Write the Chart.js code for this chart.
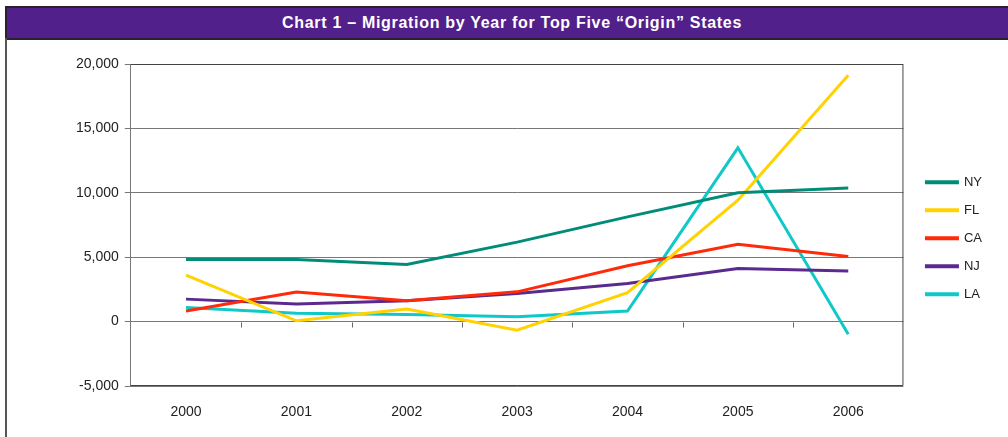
<!DOCTYPE html>
<html lang="en">
<head>
    <meta charset="UTF-8">
    <title>Migration by Year for Top Five Origin States</title>
    <script src="https://cdn.jsdelivr.net/npm/chart.js"></script>
    <style>
        body { margin: 0; background: #fff; font-family: "Liberation Sans", Arial, sans-serif; }
        #frame { position: relative; width: 1008px; height: 437px; overflow: hidden; }
        #titleBar {
            position: absolute; left: 5px; top: 6px; width: 1010px; height: 30px;
            background: #52208a; border-top: 2px solid #2a2030; border-bottom: 2px solid #2a2030;
            border-left: 2px solid #2a2030;
            color: #fff; font-weight: bold; font-size: 16px; letter-spacing: 0.7px; line-height: 30px;
            text-align: center; box-sizing: content-box;
        }
        #leftEdge { position: absolute; left: 5px; top: 38px; width: 2px; height: 400px; background: #555; }
        #chartBox { position: absolute; left: 7px; top: 38px; width: 1001px; height: 399px; }
    </style>
</head>
<body>
    <div id="frame">
        <div id="titleBar">Chart 1 – Migration by Year for Top Five “Origin” States</div>
        <div id="leftEdge"></div>
        <div id="chartBox"><canvas id="migrationChart" width="1001" height="399"></canvas></div>
    </div>

    <script>
        // Data
        const years = ['2000', '2001', '2002', '2003', '2004', '2005', '2006'];
        const nyValues = [4830, 4830, 4440, 6170, 8130, 10000, 10380];
        const flValues = [3610, 60, 970, -660, 2240, 9430, 19130];
        const caValues = [815, 2290, 1620, 2310, 4330, 6010, 5060];
        const njValues = [1745, 1360, 1610, 2190, 2960, 4130, 3920];
        const laValues = [1100, 640, 560, 370, 815, 13490, -990];
        const yTicks = [-5000, 0, 5000, 10000, 15000, 20000];

        function series(label, data, color) {
            return {
                label: label,
                data: data,
                borderColor: color,
                backgroundColor: color,
                borderWidth: 3,
                pointRadius: 0,
                tension: 0
            };
        }

        // frame around the plot + small ticks on the zero line
        const plotFrame = {
            id: 'plotFrame',
            afterDatasetsDraw(chart) {
                const ctx = chart.ctx;
                const a = chart.chartArea;
                const x = chart.scales.x;
                const y = chart.scales.y;
                ctx.save();
                ctx.strokeStyle = '#444';
                ctx.lineWidth = 1;
                ctx.beginPath();
                ctx.moveTo(a.left, a.top + 0.5);
                ctx.lineTo(a.right - 0.5, a.top + 0.5);
                ctx.lineTo(a.right - 0.5, a.bottom - 0.5);
                ctx.lineTo(a.left, a.bottom - 0.5);
                ctx.stroke();
                const zero = Math.round(y.getPixelForValue(0)) + 0.5;
                ctx.strokeStyle = '#666';
                ctx.beginPath();
                for (let i = 0; i < years.length - 1; i++) {
                    const px = Math.round((x.getPixelForValue(i) + x.getPixelForValue(i + 1)) / 2) + 0.5;
                    ctx.moveTo(px, zero);
                    ctx.lineTo(px, zero + 5);
                }
                ctx.stroke();
                ctx.restore();
            }
        };

        const ctx = document.getElementById('migrationChart').getContext('2d');
        new Chart(ctx, {
            type: 'line',
            data: {
                labels: years,
                datasets: [
                    series('NY', nyValues, '#008c78'),
                    series('FL', flValues, '#ffd200'),
                    series('CA', caValues, '#ff2a0a'),
                    series('NJ', njValues, '#5a2a8e'),
                    series('LA', laValues, '#10c8c8')
                ]
            },
            options: {
                responsive: false,
                animation: false,
                layout: { padding: { left: 63, top: 26, right: 16, bottom: 0 } },
                plugins: {
                    title: { display: false },
                    tooltip: { enabled: false },
                    legend: {
                        position: 'right',
                        align: 'center',
                        fullSize: false,
                        // empty title just nudges the entries down a bit
                        title: { display: true, text: ' ', padding: 6, font: { size: 12 } },
                        labels: {
                            boxWidth: 31,
                            boxHeight: 1,
                            padding: 15,
                            color: '#222',
                            font: { family: '"Liberation Sans", Arial, sans-serif', size: 13 }
                        }
                    }
                },
                scales: {
                    x: {
                        offset: true,
                        grid: { display: false },
                        border: { display: false },
                        afterFit(scale) { scale.height = 51; },
                        ticks: {
                            padding: 10,
                            color: '#222',
                            font: { family: '"Liberation Sans", Arial, sans-serif', size: 14 }
                        }
                    },
                    y: {
                        min: -5000,
                        max: 20000,
                        afterBuildTicks(scale) {
                            scale.ticks = yTicks.map(v => ({ value: v }));
                        },
                        grid: {
                            color: '#777',
                            lineWidth: 1,
                            tickLength: 6
                        },
                        border: { display: true, color: '#777', width: 1 },
                        ticks: {
                            padding: 6,
                            color: '#222',
                            font: { family: '"Liberation Sans", Arial, sans-serif', size: 14 },
                            callback: v => v.toLocaleString('en-US')
                        }
                    },
                    // empty spacer between the plot and the legend
                    spacer: {
                        type: 'linear',
                        position: 'right',
                        grid: { display: false },
                        border: { display: false },
                        ticks: { display: false },
                        afterFit(scale) { scale.width = 8; }
                    }
                }
            },
            plugins: [plotFrame]
        });
    </script>
</body>
</html>
